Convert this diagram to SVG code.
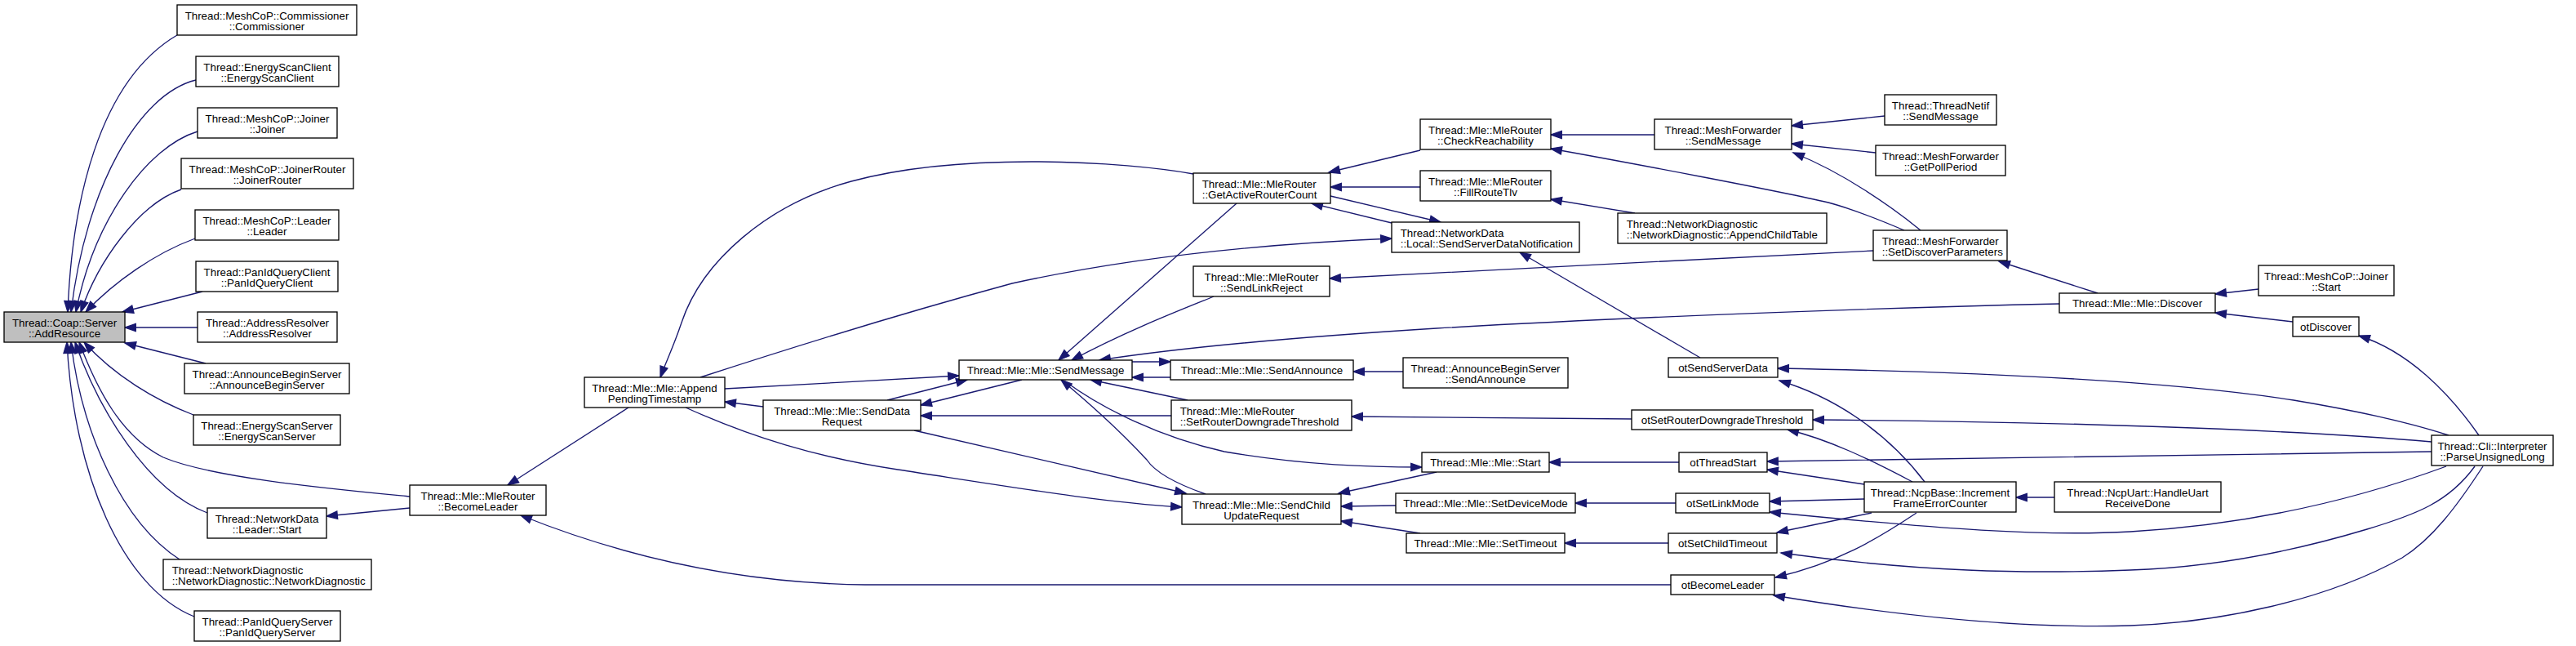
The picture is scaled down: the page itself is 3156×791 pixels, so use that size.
<svg xmlns="http://www.w3.org/2000/svg" width="3156" height="791" viewBox="0 0 3156 791">
<style>
.node rect{fill:#fff;stroke:#000;stroke-width:1.33}
.node rect.root{fill:#bfbfbf}
.node text{font-family:"Liberation Sans",Arial,Helvetica,sans-serif;font-size:13.33px;fill:#000;text-anchor:middle}
.node text.l{text-anchor:start}
.edges path{fill:none;stroke:#191970;stroke-width:1.33;marker-end:url(#arr)}
</style>
<defs>
<marker id="arr" markerUnits="userSpaceOnUse" markerWidth="16" markerHeight="12" refX="13.3" refY="4.67" orient="auto" overflow="visible">
<path d="M0,0 L13.3,4.67 L0,9.33 z" fill="#191970" stroke="#191970" stroke-width="1.33"/>
</marker>
</defs>
<rect width="3156" height="791" fill="#fff"/>
<g class="edges">
<path d="M217,43 C120,100 88,250 83,382"/>
<path d="M240,98 C170,115 105,230 87,382"/>
<path d="M242,161 C180,180 115,270 93,382"/>
<path d="M222,232 C170,250 120,320 99,382"/>
<path d="M239,292 C190,310 140,345 105,382"/>
<path d="M248,357 L150,382"/>
<path d="M242,401 L153,401"/>
<path d="M252,445 L153,420"/>
<path d="M237,508 C190,490 140,460 103,419"/>
<path d="M502,608 C400,598 260,585 200,560 C150,535 120,480 97,419"/>
<path d="M254,628 C180,600 120,500 92,419"/>
<path d="M220,685 C150,640 100,530 87,419"/>
<path d="M238,755 C150,720 90,580 82,419"/>
<path d="M502,622 L400,632"/>
<path d="M770,499 L622,594"/>
<path d="M2047,716 L1060,716 C900,714 760,680 638,631"/>
<path d="M1462,213 C1380,198 1180,185 1043,222 C940,250 860,320 835,395 C825,425 815,445 809,462"/>
<path d="M888,476 C950,473 1100,464 1175,460"/>
<path d="M858,462 C950,432 1100,385 1240,347 C1400,312 1560,298 1705,292"/>
<path d="M935,498 L888,492"/>
<path d="M840,499 C920,535 1000,560 1100,575 C1250,598 1350,615 1448,621"/>
<path d="M1515,249 L1297,441"/>
<path d="M1487,363 C1450,378 1380,405 1313,441"/>
<path d="M2523,372 C2300,377 2000,388 1760,402 C1600,412 1450,425 1347,441"/>
<path d="M1387,443 L1434,443"/>
<path d="M1434,462 L1387,462"/>
<path d="M1455,490 L1336,465"/>
<path d="M1252,465 L1128,496"/>
<path d="M1087,490 L1185,465"/>
<path d="M1477,605 C1440,592 1415,578 1405,563 C1370,525 1330,490 1300,465"/>
<path d="M1305,467 C1350,500 1420,535 1500,553 C1600,570 1680,572 1742,572"/>
<path d="M1435,509 L1128,509"/>
<path d="M1120,527 L1453,604"/>
<path d="M1760,578 L1640,604"/>
<path d="M1710,619 L1643,620"/>
<path d="M1740,653 L1643,638"/>
<path d="M1740,184 L1628,211"/>
<path d="M1740,229 L1630,229"/>
<path d="M1630,240 L1765,272"/>
<path d="M1705,273 L1607,249"/>
<path d="M2295,307 C2150,313 1800,333 1629,341"/>
<path d="M2027,165 L1900,165"/>
<path d="M2333,282 C2300,268 2270,256 2240,248 C2180,234 2000,200 1900,182"/>
<path d="M2003,261 L1900,244"/>
<path d="M2083,438 L1862,309"/>
<path d="M2309,142 L2195,154"/>
<path d="M2298,187 L2195,176"/>
<path d="M2353,282 C2320,255 2260,212 2197,187"/>
<path d="M2570,359 L2449,320"/>
<path d="M2767,354 L2714,360"/>
<path d="M2809,394 L2714,383"/>
<path d="M3037,533 C3000,480 2950,430 2890,411"/>
<path d="M3000,533 C2960,520 2900,505 2810,490 C2650,465 2400,455 2178,451"/>
<path d="M2358,590 C2320,540 2260,490 2180,466"/>
<path d="M2979,541 C2800,525 2500,516 2221,514"/>
<path d="M2343,590 C2290,562 2240,538 2190,526"/>
<path d="M1999,513 L1656,510"/>
<path d="M2057,566 L1898,566"/>
<path d="M2979,553 C2700,557 2400,562 2165,565"/>
<path d="M2284,593 L2165,575"/>
<path d="M2053,616 L1930,616"/>
<path d="M2284,611 L2168,614"/>
<path d="M2997,571 C2940,592 2800,640 2610,651 C2500,657 2380,648 2168,627"/>
<path d="M2044,665 L1917,665"/>
<path d="M2293,628 L2177,652"/>
<path d="M3032,571 C3000,615 2960,630 2900,648 C2800,678 2700,695 2610,698 C2480,703 2350,700 2182,677"/>
<path d="M2348,628 C2300,660 2250,690 2175,707"/>
<path d="M3042,571 C3010,620 2980,660 2943,683 C2850,735 2720,762 2610,766 C2480,770 2330,755 2173,729"/>
<path d="M2517,609 L2470,609"/>
<path d="M1719,455 L1658,455"/>
</g>
<g id="n0" class="node"><rect class="root" x="5" y="382" width="148" height="37"/><text x="79" y="399.5">Thread::Coap::Server</text><text x="79" y="412.5">::AddResource</text></g>
<g id="n1" class="node"><rect x="217" y="6" width="220" height="37"/><text x="327" y="23.5">Thread::MeshCoP::Commissioner</text><text x="327" y="36.5">::Commissioner</text></g>
<g id="n2" class="node"><rect x="240" y="69" width="175" height="37"/><text x="327.5" y="86.5">Thread::EnergyScanClient</text><text x="327.5" y="99.5">::EnergyScanClient</text></g>
<g id="n3" class="node"><rect x="242" y="132" width="171" height="37"/><text x="327.5" y="149.5">Thread::MeshCoP::Joiner</text><text x="327.5" y="162.5">::Joiner</text></g>
<g id="n4" class="node"><rect x="222" y="194" width="211" height="37"/><text x="327.5" y="211.5">Thread::MeshCoP::JoinerRouter</text><text x="327.5" y="224.5">::JoinerRouter</text></g>
<g id="n5" class="node"><rect x="239" y="257" width="176" height="37"/><text x="327" y="274.5">Thread::MeshCoP::Leader</text><text x="327" y="287.5">::Leader</text></g>
<g id="n6" class="node"><rect x="240" y="320" width="174" height="37"/><text x="327" y="337.5">Thread::PanIdQueryClient</text><text x="327" y="350.5">::PanIdQueryClient</text></g>
<g id="n7" class="node"><rect x="242" y="382" width="171" height="37"/><text x="327.5" y="399.5">Thread::AddressResolver</text><text x="327.5" y="412.5">::AddressResolver</text></g>
<g id="n8" class="node"><rect x="226" y="445" width="202" height="37"/><text x="327" y="462.5">Thread::AnnounceBeginServer</text><text x="327" y="475.5">::AnnounceBeginServer</text></g>
<g id="n9" class="node"><rect x="237" y="508" width="180" height="37"/><text x="327" y="525.5">Thread::EnergyScanServer</text><text x="327" y="538.5">::EnergyScanServer</text></g>
<g id="n10" class="node"><rect x="502" y="594" width="167" height="37"/><text x="585.5" y="611.5">Thread::Mle::MleRouter</text><text x="585.5" y="624.5">::BecomeLeader</text></g>
<g id="n11" class="node"><rect x="254" y="622" width="146" height="37"/><text x="327" y="639.5">Thread::NetworkData</text><text x="327" y="652.5">::Leader::Start</text></g>
<g id="n12" class="node"><rect x="200" y="685" width="255" height="37"/><text class="l" x="210.7" y="702.5">Thread::NetworkDiagnostic</text><text class="l" x="210.7" y="715.5">::NetworkDiagnostic::NetworkDiagnostic</text></g>
<g id="n13" class="node"><rect x="238" y="748" width="179" height="37"/><text x="327.5" y="765.5">Thread::PanIdQueryServer</text><text x="327.5" y="778.5">::PanIdQueryServer</text></g>
<g id="n14" class="node"><rect x="716" y="462" width="172" height="37"/><text x="802" y="479.5">Thread::Mle::Mle::Append</text><text x="802" y="492.5">PendingTimestamp</text></g>
<g id="n15" class="node"><rect x="935" y="490" width="193" height="37"/><text x="1031.5" y="507.5">Thread::Mle::Mle::SendData</text><text x="1031.5" y="520.5">Request</text></g>
<g id="n16" class="node"><rect x="1175" y="441" width="212" height="24"/><text x="1281" y="457.7">Thread::Mle::Mle::SendMessage</text></g>
<g id="n17" class="node"><rect x="1462" y="212" width="168" height="37"/><text class="l" x="1472.7" y="229.5">Thread::Mle::MleRouter</text><text class="l" x="1472.7" y="242.5">::GetActiveRouterCount</text></g>
<g id="n18" class="node"><rect x="1462" y="326" width="167" height="37"/><text x="1545.5" y="343.5">Thread::Mle::MleRouter</text><text x="1545.5" y="356.5">::SendLinkReject</text></g>
<g id="n19" class="node"><rect x="1434" y="441" width="224" height="24"/><text x="1546" y="457.7">Thread::Mle::Mle::SendAnnounce</text></g>
<g id="n20" class="node"><rect x="1435" y="490" width="221" height="37"/><text class="l" x="1445.7" y="507.5">Thread::Mle::MleRouter</text><text class="l" x="1445.7" y="520.5">::SetRouterDowngradeThreshold</text></g>
<g id="n21" class="node"><rect x="1448" y="605" width="195" height="37"/><text x="1545.5" y="622.5">Thread::Mle::Mle::SendChild</text><text x="1545.5" y="635.5">UpdateRequest</text></g>
<g id="n22" class="node"><rect x="1740" y="146" width="160" height="37"/><text x="1820" y="163.5">Thread::Mle::MleRouter</text><text x="1820" y="176.5">::CheckReachability</text></g>
<g id="n23" class="node"><rect x="1740" y="209" width="160" height="37"/><text x="1820" y="226.5">Thread::Mle::MleRouter</text><text x="1820" y="239.5">::FillRouteTlv</text></g>
<g id="n24" class="node"><rect x="1705" y="272" width="230" height="37"/><text class="l" x="1715.7" y="289.5">Thread::NetworkData</text><text class="l" x="1715.7" y="302.5">::Local::SendServerDataNotification</text></g>
<g id="n25" class="node"><rect x="1719" y="438" width="202" height="37"/><text x="1820" y="455.5">Thread::AnnounceBeginServer</text><text x="1820" y="468.5">::SendAnnounce</text></g>
<g id="n26" class="node"><rect x="1742" y="554" width="156" height="24"/><text x="1820" y="570.7">Thread::Mle::Mle::Start</text></g>
<g id="n27" class="node"><rect x="1710" y="604" width="220" height="24"/><text x="1820" y="620.7">Thread::Mle::Mle::SetDeviceMode</text></g>
<g id="n28" class="node"><rect x="1723" y="653" width="194" height="24"/><text x="1820" y="669.7">Thread::Mle::Mle::SetTimeout</text></g>
<g id="n29" class="node"><rect x="2027" y="146" width="168" height="37"/><text x="2111" y="163.5">Thread::MeshForwarder</text><text x="2111" y="176.5">::SendMessage</text></g>
<g id="n30" class="node"><rect x="1982" y="261" width="256" height="37"/><text class="l" x="1992.7" y="278.5">Thread::NetworkDiagnostic</text><text class="l" x="1992.7" y="291.5">::NetworkDiagnostic::AppendChildTable</text></g>
<g id="n31" class="node"><rect x="2044" y="438" width="134" height="24"/><text x="2111" y="454.7">otSendServerData</text></g>
<g id="n32" class="node"><rect x="1999" y="502" width="222" height="24"/><text x="2110" y="518.7">otSetRouterDowngradeThreshold</text></g>
<g id="n33" class="node"><rect x="2057" y="554" width="108" height="24"/><text x="2111" y="570.7">otThreadStart</text></g>
<g id="n34" class="node"><rect x="2053" y="604" width="115" height="24"/><text x="2110.5" y="620.7">otSetLinkMode</text></g>
<g id="n35" class="node"><rect x="2044" y="653" width="133" height="24"/><text x="2110.5" y="669.7">otSetChildTimeout</text></g>
<g id="n36" class="node"><rect x="2047" y="704" width="127" height="24"/><text x="2110.5" y="720.7">otBecomeLeader</text></g>
<g id="n37" class="node"><rect x="2309" y="116" width="137" height="37"/><text x="2377.5" y="133.5">Thread::ThreadNetif</text><text x="2377.5" y="146.5">::SendMessage</text></g>
<g id="n38" class="node"><rect x="2298" y="178" width="159" height="37"/><text x="2377.5" y="195.5">Thread::MeshForwarder</text><text x="2377.5" y="208.5">::GetPollPeriod</text></g>
<g id="n39" class="node"><rect x="2295" y="282" width="164" height="37"/><text class="l" x="2305.7" y="299.5">Thread::MeshForwarder</text><text class="l" x="2305.7" y="312.5">::SetDiscoverParameters</text></g>
<g id="n40" class="node"><rect x="2523" y="359" width="191" height="24"/><text x="2618.5" y="375.7">Thread::Mle::Mle::Discover</text></g>
<g id="n41" class="node"><rect x="2284" y="590" width="186" height="37"/><text x="2377" y="607.5">Thread::NcpBase::Increment</text><text x="2377" y="620.5">FrameErrorCounter</text></g>
<g id="n42" class="node"><rect x="2517" y="590" width="204" height="37"/><text x="2619" y="607.5">Thread::NcpUart::HandleUart</text><text x="2619" y="620.5">ReceiveDone</text></g>
<g id="n43" class="node"><rect x="2767" y="325" width="166" height="37"/><text x="2850" y="342.5">Thread::MeshCoP::Joiner</text><text x="2850" y="355.5">::Start</text></g>
<g id="n44" class="node"><rect x="2809" y="388" width="81" height="24"/><text x="2849.5" y="404.7">otDiscover</text></g>
<g id="n45" class="node"><rect x="2979" y="533" width="149" height="37"/><text x="3053.5" y="550.5">Thread::Cli::Interpreter</text><text x="3053.5" y="563.5">::ParseUnsignedLong</text></g>
</svg>
